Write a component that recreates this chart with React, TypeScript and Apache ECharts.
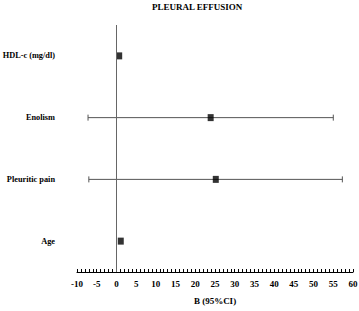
import React, { useEffect, useRef } from "react";
import * as echarts from "echarts";

const categories = ["Age", "Pleuritic pain", "Enolism", "HDL-c (mg/dl)"];
const estimates = [1.1, 25.2, 23.9, 0.7];
const lowerCI: (number | null)[] = [null, -7.0, -7.2, null];
const upperCI: (number | null)[] = [null, 57.3, 55.0, null];
const xTicks = { min: -10, max: 60, interval: 5 };
const title = "PLEURAL EFFUSION";
const xName = "B (95%CI)";

const FONT = "'Liberation Serif', 'Times New Roman', serif";

export default function App() {
  const ref = useRef<HTMLDivElement>(null);
  useEffect(() => {
    if (!ref.current) return;
    const chart = echarts.init(ref.current, null, { renderer: "svg" });
    const ciData = categories
      .map((c, i) => [i, lowerCI[i], upperCI[i]])
      .filter((d) => d[1] !== null && d[2] !== null);
    chart.setOption({
      animation: false,
      backgroundColor: "#ffffff",
      title: {
        text: title,
        left: 152,
        top: 2,
        padding: 0,
        textStyle: { fontFamily: FONT, fontSize: 9, fontWeight: "bold", color: "#000" },
      },
      grid: { left: 77, right: 6, top: 25, bottom: 39, outerBoundsMode: "none", containLabel: false },
      xAxis: {
        type: "value",
        min: xTicks.min,
        max: xTicks.max,
        interval: xTicks.interval,
        name: xName,
        nameLocation: "middle",
        nameGap: 24,
        nameTextStyle: { fontFamily: FONT, fontSize: 9, fontWeight: "bold", color: "#000" },
        axisLine: { show: true, lineStyle: { color: "#000", width: 1 } },
        axisTick: { show: true, inside: true, length: 3, lineStyle: { color: "#000" } },
        minorTick: { show: true, splitNumber: 5, length: 3, lineStyle: { color: "#000" } },
        splitLine: { show: false },
        axisLabel: { margin: 7, fontFamily: FONT, fontSize: 9, fontWeight: "bold", color: "#000" },
      },
      yAxis: {
        type: "category",
        data: categories,
        axisLine: { show: false },
        axisTick: { show: false },
        splitLine: { show: false },
        axisLabel: { margin: 22, fontFamily: FONT, fontSize: 8.3, fontWeight: "bold", color: "#000" },
      },
      series: [
        {
          type: "custom",
          data: ciData,
          renderItem: (params: any, api: any) => {
            const y = api.value(0);
            const lo = api.coord([api.value(1), y]);
            const hi = api.coord([api.value(2), y]);
            const style = { stroke: "#555", lineWidth: 1 };
            return {
              type: "group",
              children: [
                { type: "line", shape: { x1: lo[0], y1: lo[1], x2: hi[0], y2: hi[1] }, style },
                { type: "line", shape: { x1: lo[0], y1: lo[1] - 3, x2: lo[0], y2: lo[1] + 3 }, style },
                { type: "line", shape: { x1: hi[0], y1: hi[1] - 3, x2: hi[0], y2: hi[1] + 3 }, style },
              ],
            };
          },
          markLine: {
            silent: true,
            symbol: "none",
            label: { show: false },
            lineStyle: { color: "#666", width: 1, type: "solid" },
            data: [{ xAxis: 0 }],
          },
          z: 2,
        },
        {
          type: "scatter",
          data: estimates.map((v, i) => [v, i]),
          symbol: "rect",
          symbolSize: [6, 7],
          itemStyle: { color: "#000" },
          z: 3,
        },
      ],
    });
    return () => chart.dispose();
  }, []);
  return <div ref={ref} style={{ width: 359, height: 311, position: "absolute", left: 0, top: 0 }} />;
}
